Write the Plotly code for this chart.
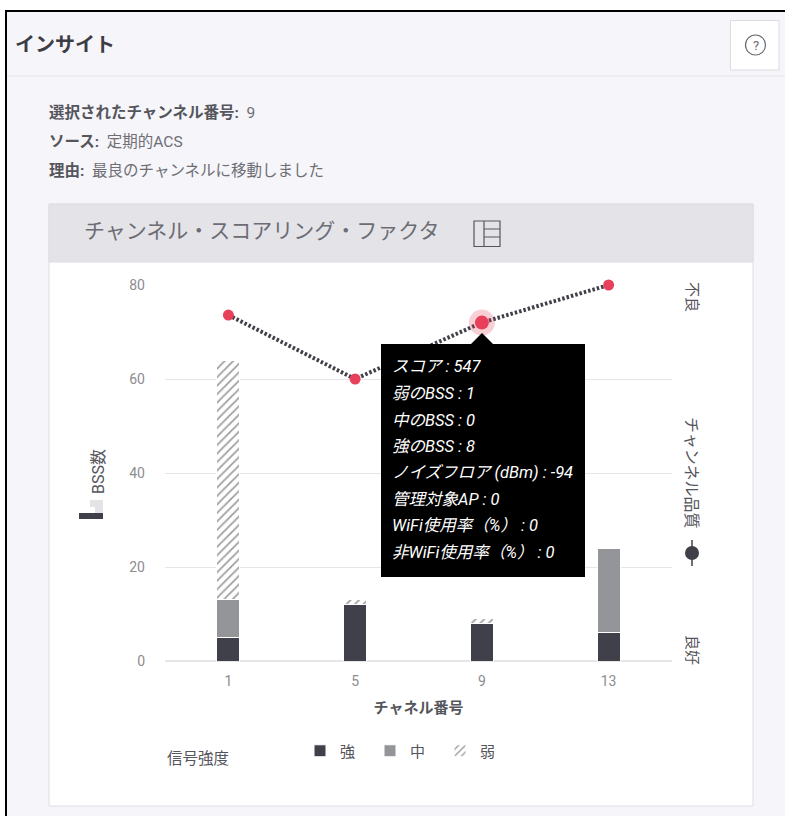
import plotly.graph_objects as go

W, H = 785, 816
FONT = "Roboto, 'Noto Sans CJK JP', sans-serif"

channels = ["1", "5", "9", "13"]
strong = [5, 12, 8, 6]
medium = [8, 0, 0, 18]
weak = [51, 1, 1, 0]
quality = [73.6, 60, 72, 80]
selected_index = 2
y_ticks = [0, 20, 40, 60, 80]
info_rows = [("選択されたチャンネル番号:", "9", 113), ("ソース:", "定期的ACS", 142), ("理由:", "最良のチャンネルに移動しました", 171)]
tooltip_rows = ["スコア : 547", "弱のBSS : 1", "中のBSS : 0", "強のBSS : 8", "ノイズフロア (dBm) : -94",
                "管理対象AP : 0", "WiFi使用率（%） : 0", "非WiFi使用率（%） : 0"]
tooltip_row_y = [366, 393, 420, 446, 472, 499, 525, 552]

DARK, MID, RED = "#40404a", "#939598", "#e8405a"
PAGE, GRID, TEXT, TICK = "#f5f5fa", "#e6e6e8", "#55555c", "#8c8c90"


def px(x):
    return x / W


def py(y):
    return 1 - y / H


def rect(x0, y0, x1, y1, fill=None, line=None, lw=1, layer="below"):
    return dict(type="rect", xref="paper", yref="paper", x0=px(x0), x1=px(x1), y0=py(y0), y1=py(y1), layer=layer,
                fillcolor=fill or "rgba(0,0,0,0)", line=dict(color=line or "rgba(0,0,0,0)", width=lw if line else 0))


def seg(x0, y0, x1, y1, color, lw=1):
    return dict(type="line", xref="paper", yref="paper", x0=px(x0), x1=px(x1), y0=py(y0), y1=py(y1),
                layer="below", line=dict(color=color, width=lw))


def label(x, y, text, size=13, color=TEXT, anchor="left", angle=0):
    shift = 2 if anchor == "left" else 0
    return dict(xref="paper", yref="paper", x=px(x - shift), y=py(y), text=text, showarrow=False, xanchor=anchor,
                yanchor="middle", textangle=angle, align="left", font=dict(family=FONT, size=size, color=color))


fig = go.Figure()
fig.add_bar(name="強", x=channels, y=strong, marker=dict(color=DARK, line=dict(color="white", width=1)))
fig.add_bar(name="中", x=channels, y=medium, marker=dict(color=MID, line=dict(color="white", width=1)))
fig.add_bar(name="弱", x=channels, y=weak,
            marker=dict(color="white", line=dict(color="white", width=1),
                        pattern=dict(shape="/", fgcolor="#404044", bgcolor="white", size=6, solidity=0.3)))
fig.add_scatter(x=channels, y=quality, yaxis="y2", mode="lines", showlegend=False, cliponaxis=False,
                line=dict(color=DARK, width=4, dash="2.5px,2px"))
fig.add_scatter(x=channels, y=quality, yaxis="y2", mode="markers", showlegend=False, cliponaxis=False,
                marker=dict(color=RED, size=11))
fig.add_scatter(x=[channels[selected_index]], y=[quality[selected_index]], yaxis="y2", mode="markers",
                showlegend=False, cliponaxis=False, marker=dict(color="rgba(232,64,90,0.25)", size=26))
fig.add_scatter(x=[channels[selected_index]], y=[quality[selected_index]], yaxis="y2", mode="markers",
                showlegend=False, cliponaxis=False, marker=dict(color=RED, size=14))

shapes = [
    rect(6, 11, W + 2, H + 2, PAGE, "#000000", 2),
    seg(7, 76, W, 76, "#e8e8ec", 1),
    rect(730.5, 20.5, 779, 70, "white", "#dcdce0", 1),
    dict(type="circle", xref="paper", yref="paper", x0=px(745.5), x1=px(765.5), y0=py(35), y1=py(55), layer="below",
         line=dict(color="#6a6a70", width=1.2)),
    rect(49, 204, 753, 806, "white", "#dedee2", 1),
    rect(49, 204, 753, 262, "#e4e4e8", "#dedee2", 1),
    rect(474, 221, 500, 246.5, None, "#55555c", 1.2),
    seg(484, 221, 484, 246.5, "#55555c", 1.2),
    seg(484, 229, 500, 229, "#55555c", 1),
    seg(484, 237, 500, 237, "#55555c", 1),
    # bar icon beside the BSS title
    rect(79, 513, 103, 519, DARK),
    rect(90, 500, 103, 507, "#e4e4e8"),
    rect(95, 507, 103, 513, "#e4e4e8"),
    # line icon beside the quality title
    seg(692, 540, 692, 566, DARK, 1.5),
    dict(type="circle", xref="paper", yref="paper", x0=px(685), x1=px(699), y0=py(546), y1=py(560), layer="below",
         fillcolor=DARK, line=dict(width=0)),
    # tooltip
    dict(type="path", xref="paper", yref="paper", fillcolor="#000000", line=dict(width=0), layer="above",
         path=f"M{px(471)},{py(344)} L{px(482)},{py(333)} L{px(493)},{py(344)} Z"),
    rect(381, 344, 585, 577, "#000000", layer="above"),
]

annotations = [
    label(15, 45, "<b>インサイト</b>", 20, "#3c3c44"),
    label(755.5, 45, "?", 13, "#6a6a70", "center"),
    label(84, 231, "チャンネル・スコアリング・ファクタ", 21, "#6c6c74"),
    label(98, 472, "BSS数", 16, TEXT, "center", -90),
    label(692, 473, "チャンネル品質", 16, TEXT, "center", 90),
    label(692, 297, "不良", 15, TEXT, "center", 90),
    label(692, 650, "良好", 15, TEXT, "center", 90),
    label(167, 759, "信号強度", 15.5, TEXT),
]
for head, val, y in info_rows:
    annotations.append(label(49, y, f"<b>{head}</b>&nbsp; <span style='color:#6e6e74'>{val}</span>", 15.5, TEXT))
for row, y in zip(tooltip_rows, tooltip_row_y):
    annotations.append(label(392, y + 0.5, f"<i>{row}</i>", 16.5, "white"))

fig.update_layout(
    width=W, height=H, margin=dict(l=0, r=0, t=0, b=0), autosize=False,
    paper_bgcolor="white", plot_bgcolor="rgba(0,0,0,0)",
    barmode="stack", bargap=0.82, font=dict(family=FONT, color=TEXT),
    xaxis=dict(domain=[px(165), px(672)], type="category", range=[-0.5, 3.5], showgrid=False, showline=False,
               zeroline=False, ticks="", ticklabelstandoff=10, tickfont=dict(size=14, color=TICK), automargin=False,
               title=dict(text="<b>チャネル番号</b>", font=dict(size=15, color=TEXT), standoff=14)),
    yaxis=dict(domain=[py(661), py(285)], range=[0, 80], tickvals=y_ticks, showgrid=True, gridcolor=GRID,
               zeroline=True, zerolinecolor=GRID, showline=False, ticks="", ticklabelstandoff=19, automargin=False,
               tickfont=dict(size=14, color=TICK)),
    yaxis2=dict(domain=[py(661), py(285)], range=[0, 80], overlaying="y", side="right", showgrid=False,
                showticklabels=False, zeroline=False, ticks="", automargin=False),
    legend=dict(orientation="h", x=px(300), y=py(751), xref="paper", yref="paper", xanchor="left",
                yanchor="middle", entrywidth=25, entrywidthmode="pixels", font=dict(size=15, color=TEXT),
                bgcolor="rgba(0,0,0,0)", traceorder="normal", itemclick=False),
    shapes=shapes, annotations=annotations, hovermode=False,
)

fig.write_html("out.html", config=dict(displayModeBar=False),
               post_script="document.body.style.margin='0';document.body.style.overflow='hidden';")
